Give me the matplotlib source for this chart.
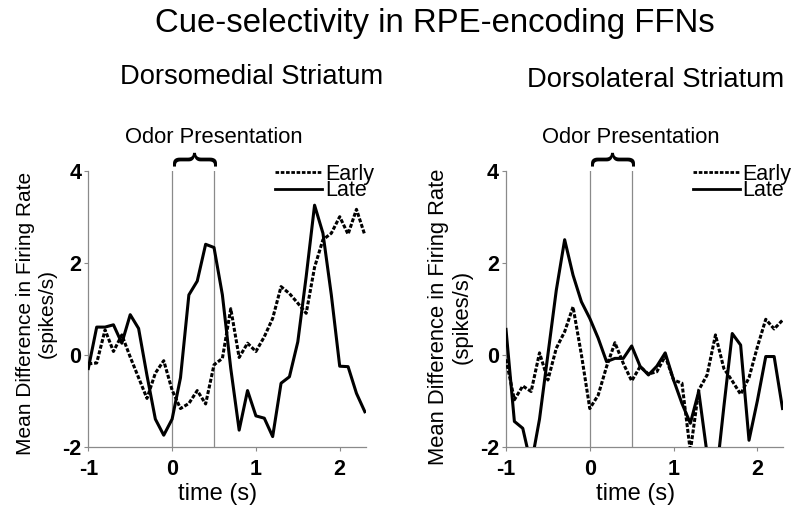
import matplotlib
matplotlib.use('Agg')
import matplotlib.pyplot as plt

plt.rcParams['font.family'] = ['Liberation Sans', 'DejaVu Sans']
plt.rcParams['axes.unicode_minus'] = False

# ---- data ----
time_s = [-1.0, -0.9, -0.8, -0.7, -0.6, -0.5, -0.4, -0.3, -0.2, -0.1,
          0.0, 0.1, 0.2, 0.3, 0.4, 0.5, 0.6, 0.7, 0.8, 0.9,
          1.0, 1.1, 1.2, 1.3, 1.4, 1.5, 1.6, 1.7, 1.8, 1.9,
          2.0, 2.1, 2.2, 2.3]

dms_early = [-0.2, -0.18, 0.54, 0.07, 0.43, -0.05, -0.5, -0.95, -0.4, -0.13,
             -0.77, -1.17, -1.06, -0.78, -1.07, -0.22, -0.08, 1.0, -0.06, 0.25,
             0.07, 0.39, 0.79, 1.48, 1.33, 1.12, 0.9, 1.9, 2.5, 2.64,
             3.0, 2.62, 3.16, 2.6]
dms_late = [-0.3, 0.6, 0.6, 0.65, 0.25, 0.87, 0.57, -0.45, -1.4, -1.75,
            -1.4, -0.5, 1.3, 1.6, 2.4, 2.33, 1.3, -0.3, -1.64, -0.78,
            -1.33, -1.38, -1.78, -0.62, -0.48, 0.28, 1.7, 3.25, 2.64, 1.3,
            -0.25, -0.26, -0.84, -1.24]

dls_early = [-0.1, -0.98, -0.68, -0.8, 0.04, -0.55, 0.14, 0.5, 1.04, 0.0,
             -1.17, -0.88, -0.26, 0.26, -0.19, -0.57, -0.26, -0.42, -0.37, -0.03,
             -0.55, -0.62, -2.1, -0.77, -0.44, 0.43, -0.3, -0.57, -0.86, -0.5,
             0.17, 0.77, 0.56, 0.75]
dls_late = [0.55, -1.45, -1.6, -2.4, -1.4, 0.0, 1.4, 2.5, 1.73, 1.15,
            0.79, 0.36, -0.15, -0.08, -0.08, 0.19, -0.25, -0.44, -0.25, 0.04,
            -0.55, -1.06, -1.49, -0.8, -2.16, -2.8, -1.13, 0.46, 0.21, -1.86,
            -1.0, -0.04, -0.04, -1.17]

x_ticks = [-1, 0, 1, 2]
y_ticks = [-2, 0, 2, 4]
odor_window = [0.0, 0.5]
series_labels = ['Early', 'Late']

title = 'Cue-selectivity in RPE-encoding FFNs'
panel_titles = ['Dorsomedial Striatum', 'Dorsolateral Striatum']
ylabel = 'Mean Difference in Firing Rate\n(spikes/s)'
xlabel = 'time (s)'

GRAY = '#8a8a8a'

fig = plt.figure(figsize=(8, 5.16), dpi=100)
ax1 = fig.add_axes([0.1104, 0.1343, 0.3467, 0.5349])
ax2 = fig.add_axes([0.6325, 0.1343, 0.3467, 0.5349])


def draw(ax, early, late, ylab_xy, xlab_x, odor_x, ylab_size):
    for xv in odor_window:
        ax.axvline(xv, color=GRAY, lw=0.9, zorder=1)
    ax.plot(time_s, early, color='black', lw=2.2, ls=(0, (1.3, 0.6)),
            label=series_labels[0], zorder=3)
    ax.plot(time_s, late, color='black', lw=2.2, label=series_labels[1], zorder=3)
    ax.set_xlim(-1, 2.31)
    ax.set_ylim(-2, 4)
    ax.set_xticks(x_ticks)
    ax.set_yticks(y_ticks)
    for s in ['top', 'right']:
        ax.spines[s].set_visible(False)
    for s in ['left', 'bottom']:
        ax.spines[s].set_color(GRAY)
        ax.spines[s].set_linewidth(0.9)
    ax.tick_params(axis='both', length=3, width=0.8, color=GRAY, labelsize=15.5)
    ax.tick_params(axis='x', pad=6)
    ax.tick_params(axis='y', pad=2)
    for lab in ax.get_xticklabels() + ax.get_yticklabels():
        lab.set_fontweight('bold')

    ax.set_ylabel(ylabel, fontsize=ylab_size, linespacing=1.15)
    ax.yaxis.label.set_va('center')
    ax.yaxis.set_label_coords(*ylab_xy)
    ax.set_xlabel(xlabel, fontsize=17)
    ax.xaxis.label.set_va('center')
    ax.xaxis.set_label_coords(xlab_x, -0.172)

    leg = ax.legend(loc='upper right', bbox_to_anchor=(1.03, 1.025), frameon=False,
                    fontsize=15.5, handlelength=2.2, handletextpad=0.12,
                    labelspacing=-0.2, borderpad=0, borderaxespad=0)
    for ln in leg.get_lines():
        ln.set_linewidth(2.0)

    # odor presentation brace + label
    ax.text(sum(odor_window) / 2, 4.27, '{', rotation=-90, fontsize=33,
            ha='center', va='center', clip_on=False, transform=ax.transData)
    ax.text(odor_x, 4.73, 'Odor Presentation', fontsize=15.8,
            ha='center', va='center', clip_on=False)


draw(ax1, dms_early, dms_late, (-0.187, 0.484), 0.4676, 0.502, 15)
draw(ax2, dls_early, dls_late, (-0.200, 0.469), 0.4676, 0.492, 15.8)

fig.text(0.544, 0.9535, title, fontsize=23.7, ha='center', va='center')
fig.text(0.315, 0.851, panel_titles[0], fontsize=19.7, ha='center', va='center')
fig.text(0.819, 0.845, panel_titles[1], fontsize=19.7, ha='center', va='center')

fig.savefig('out.png', dpi=100)
